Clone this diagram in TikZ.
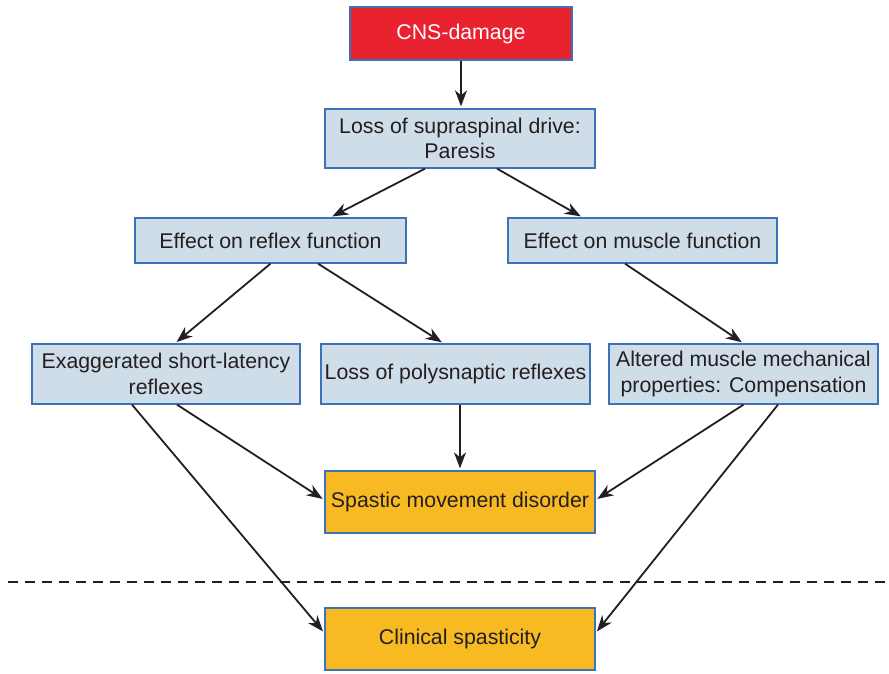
\documentclass[tikz,border=0pt]{standalone}
\usepackage{fontspec}
\setmainfont{Liberation Sans}
\usetikzlibrary{arrows.meta}

\definecolor{boxblue}{HTML}{CFDDE8}
\definecolor{edgeblue}{HTML}{3B72B8}
\definecolor{cnsred}{HTML}{E8222F}
\definecolor{outorange}{HTML}{F8BA22}
\definecolor{inkgray}{HTML}{231F20}

\begin{document}
\begin{tikzpicture}[x=1pt,y=-1pt,
  box/.style={rectangle, draw=edgeblue, line width=1.3pt, fill=boxblue,
    text=inkgray, align=center, inner sep=0pt,
    font=\fontsize{21.3}{25.5}\selectfont},
  redbox/.style={box, fill=cnsred, text=white},
  outbox/.style={box, fill=outorange},
  link/.style={-{Stealth[length=16pt,width=12pt,inset=5pt]}, line width=1.8pt,
    draw=inkgray, shorten >=2pt}
  ]
  \useasboundingbox (0,0) rectangle (889,673);

  \node[redbox, minimum width=222pt, minimum height=53pt] (cns) at (461,33.5) {CNS-damage};
  \node[box, minimum width=270pt, minimum height=59pt] (loss) at (460,138.5)
    {Loss of supraspinal drive:\\Paresis};
  \node[box, minimum width=271pt, minimum height=45pt] (reflex) at (270.5,240.5)
    {Effect on reflex function};
  \node[box, minimum width=269pt, minimum height=45pt] (muscle) at (642.5,240.5)
    {Effect on muscle function};
  \node[box, minimum width=268pt, minimum height=60pt] (exag) at (166,374)
    {Exaggerated short-latency\\reflexes};
  \node[box, minimum width=269pt, minimum height=60pt] (poly) at (455.5,374)
    {Loss of polysnaptic reflexes};
  \node[box, minimum width=269pt, minimum height=60pt] (altered) at (743.5,374)
    {Altered muscle mechanical\\properties: Compensation};
  \node[outbox, minimum width=270pt, minimum height=62pt] (spastic) at (460,502)
    {Spastic movement disorder};
  \node[outbox, minimum width=270pt, minimum height=62pt] (clinical) at (460,639)
    {Clinical spasticity};

  % upper part
  \draw[link] (cns) -- (cns.south |- loss.north);
  \draw[link] ([xshift=-35pt]loss.south) -- ([xshift=60pt]reflex.north);
  \draw[link] ([xshift=37pt]loss.south) -- ([xshift=-60pt]muscle.north);
  \draw[link] (reflex.south) -- ([xshift=9pt]exag.north);
  \draw[link] ([xshift=47.5pt]reflex.south) -- ([xshift=-12pt]poly.north);
  \draw[link] ([xshift=-17.5pt]muscle.south) -- (altered.north);

  % lower part
  \draw[link] ([xshift=11pt]exag.south) -- ([yshift=2pt]spastic.west);
  \draw[link] (poly.south -| spastic.north) -- (spastic.north);
  \draw[link] (altered.south) -- ([yshift=2pt]spastic.east);
  \draw[link] ([xshift=-34pt]exag.south) -- ([yshift=6pt]clinical.west);
  \draw[link] ([xshift=34.5pt]altered.south) -- ([yshift=6pt]clinical.east);

  \coordinate (dashl) at (8,582);
  \coordinate (dashr) at (889,582);
  \draw[inkgray, line width=2pt, dash pattern=on 10pt off 7pt] (dashl) -- (dashr);
\end{tikzpicture}
\end{document}
